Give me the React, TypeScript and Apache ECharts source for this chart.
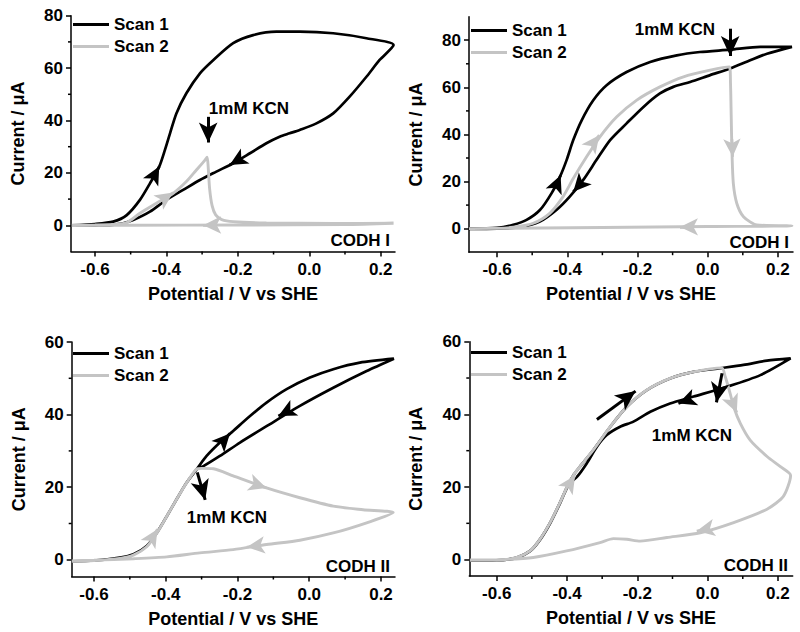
import React, { useEffect, useRef } from 'react';
import * as echarts from 'echarts';

type Pt = [number, number];

// ---------- data (x: V vs SHE, y: µA) ----------
const P1_SCAN1: Pt[] = [
  [-0.665, 0], [-0.6, 0.5], [-0.549, 1.4], [-0.511, 3.9], [-0.474, 9.7], [-0.446, 16], [-0.42, 22.4],
  [-0.404, 28.8], [-0.39, 35], [-0.372, 42.7], [-0.344, 50.4], [-0.306, 58], [-0.269, 63], [-0.213, 69.5],
  [-0.157, 72.6], [-0.092, 73.9], [-0.027, 73.9], [0.067, 73.3], [0.16, 71.4], [0.236, 68.8],
  [0.197, 63.1], [0.16, 56.7], [0.113, 49.1], [0.067, 42.7], [0.02, 38.9], [-0.027, 36.4], [-0.055, 35.1],
  [-0.083, 33.8], [-0.12, 31.3], [-0.166, 27.5], [-0.213, 23.7], [-0.26, 20.5], [-0.306, 17.3],
  [-0.353, 13.5], [-0.4, 9.7], [-0.446, 5.2], [-0.493, 2], [-0.521, 0.8], [-0.558, 0.1], [-0.6, 0], [-0.665, -0.1],
];
const P1_SCAN2: Pt[] = [
  [-0.665, 0], [-0.6, 0.1], [-0.55, 0.3], [-0.511, 1], [-0.474, 4.6], [-0.428, 8.4], [-0.381, 12.2],
  [-0.344, 16.7], [-0.316, 21.1], [-0.292, 24.9], [-0.286, 26], [-0.283, 22.4], [-0.279, 14], [-0.272, 7.5],
  [-0.262, 4], [-0.245, 2.2], [-0.213, 1.4], [-0.12, 0.9], [0.067, 0.7], [0.236, 0.8],
  [0.1, 0.3], [-0.2, 0.1], [-0.5, 0], [-0.665, -0.1],
];
const P2_SCAN1: Pt[] = [
  [-0.68, 0], [-0.6, 0.3], [-0.554, 1.6], [-0.516, 3.7], [-0.478, 7.9], [-0.445, 15], [-0.421, 22],
  [-0.402, 29.1], [-0.383, 37.6], [-0.359, 46], [-0.326, 54.5], [-0.288, 60.9], [-0.231, 66.5],
  [-0.164, 70.8], [-0.088, 73.6], [-0.022, 75], [0.064, 76], [0.15, 77.2], [0.24, 77.2],
  [0.169, 74.3], [0.121, 71.5], [0.064, 68], [0.007, 65.2], [-0.05, 62.3], [-0.098, 60.2], [-0.136, 57.4],
  [-0.183, 51.7], [-0.231, 44.7], [-0.278, 37.6], [-0.317, 29.1], [-0.355, 20.6], [-0.393, 13.6],
  [-0.431, 7.9], [-0.478, 3], [-0.535, 0.6], [-0.6, 0], [-0.68, -0.1],
];
const P2_SCAN2: Pt[] = [
  [-0.68, 0], [-0.6, 0.1], [-0.554, 0.6], [-0.497, 2.3], [-0.45, 6.5], [-0.412, 13.6], [-0.383, 21.3],
  [-0.345, 30.5], [-0.307, 39], [-0.259, 47.5], [-0.202, 54.6], [-0.136, 60.2], [-0.069, 64.5],
  [0.007, 67.3], [0.062, 68.7], [0.065, 61.6], [0.067, 47.5], [0.069, 33.4], [0.073, 19.2], [0.083, 10.7],
  [0.102, 5.1], [0.14, 1.6], [0.24, 1.2], [0.0, 0.9], [-0.3, 0.5], [-0.68, 0],
];
const P3_SCAN1: Pt[] = [
  [-0.662, -0.4], [-0.6, -0.2], [-0.528, 0.6], [-0.49, 1.5], [-0.453, 3.8], [-0.425, 7.4], [-0.397, 12],
  [-0.37, 16.6], [-0.342, 21.2], [-0.314, 24.9], [-0.286, 28.6], [-0.249, 32.3], [-0.212, 35.5],
  [-0.165, 39.6], [-0.119, 43.3], [-0.063, 47], [0.002, 50.2], [0.067, 52.5], [0.141, 54.3], [0.236, 55.4],
  [0.16, 52], [0.067, 47.4], [-0.026, 42.4], [-0.119, 36.8], [-0.193, 32.3], [-0.249, 28.6],
  [-0.295, 25.8], [-0.314, 25.1],
];
const P3_SCAN2: Pt[] = [
  [-0.662, -0.4], [-0.6, -0.2], [-0.528, 0.4], [-0.49, 1.3], [-0.453, 3.6], [-0.425, 7.3], [-0.397, 12],
  [-0.37, 16.6], [-0.342, 21.2], [-0.314, 25], [-0.3, 25.2], [-0.267, 25.1], [-0.212, 23.1], [-0.119, 19.8],
  [-0.026, 17.1], [0.067, 14.8], [0.15, 13.8], [0.234, 13],
  [0.16, 10.2], [0.067, 7.4], [-0.026, 5.4], [-0.119, 4.2], [-0.212, 2.8], [-0.305, 1.9], [-0.397, 0.8],
  [-0.49, 0.3], [-0.6, -0.1], [-0.662, -0.3],
];
const P4_SCAN1: Pt[] = [
  [-0.676, -0.2], [-0.6, -0.2], [-0.543, 0.6], [-0.505, 2.4], [-0.477, 5.6], [-0.448, 10.2], [-0.42, 15.7],
  [-0.4, 20], [-0.38, 23.5], [-0.36, 26], [-0.325, 30.2], [-0.277, 36.6], [-0.23, 42.1], [-0.173, 46.7],
  [-0.107, 49.9], [-0.04, 51.7], [0.036, 52.7], [0.102, 53.6], [0.169, 54.8], [0.236, 55.4],
  [0.15, 50.8], [0.055, 47.6], [-0.04, 44.9], [-0.107, 43], [-0.163, 40.7], [-0.211, 38], [-0.249, 36.6],
  [-0.287, 34.3], [-0.315, 31.1], [-0.344, 26.5], [-0.37, 23], [-0.396, 20.5], [-0.42, 15.5],
  [-0.448, 10], [-0.477, 5.4], [-0.505, 2.3], [-0.543, 0.5], [-0.6, -0.2], [-0.676, -0.3],
];
const P4_SCAN2: Pt[] = [
  [-0.676, -0.2], [-0.6, -0.2], [-0.543, 0.6], [-0.505, 2.4], [-0.477, 5.6], [-0.448, 10.2], [-0.42, 15.7],
  [-0.4, 20], [-0.38, 23.5], [-0.36, 26], [-0.325, 30.2], [-0.277, 36.6], [-0.23, 42.1], [-0.173, 46.7],
  [-0.107, 49.9], [-0.04, 51.7], [0.04, 52.8], [0.05, 50.4], [0.064, 45.8], [0.074, 42.1], [0.093, 37.5],
  [0.121, 32.9], [0.169, 28.4], [0.207, 25.6], [0.236, 23.2],
  [0.216, 17.5], [0.169, 13.9], [0.074, 10.2], [-0.021, 7.4], [-0.116, 6.1], [-0.192, 5.1], [-0.23, 5.6],
  [-0.268, 5.8], [-0.306, 4.7], [-0.401, 2.4], [-0.496, 0.6], [-0.59, 0], [-0.676, -0.1],
];

// direction arrows: [xFrom, yFrom, xHead, yHead]
const P1_BLACK_ARROWS = [[-0.44, 17.4, -0.42, 22.4], [-0.19, 25.6, -0.223, 23.0]];
const P1_GRAY_ARROWS = [[-0.405, 10.3, -0.381, 12.5], [-0.26, 0.1, -0.297, 0.05]];
const P2_BLACK_ARROWS = [[-0.435, 17, -0.419, 22.7], [-0.36, 19.5, -0.383, 15.7]];
const P2_GRAY_ARROWS = [[-0.33, 35.5, -0.309, 39.7], [0.069, 38, 0.071, 30.5], [-0.04, 0.75, -0.079, 0.7]];
const P3_BLACK_ARROWS = [[-0.245, 32.2, -0.221, 34.8], [-0.055, 41.2, -0.086, 39.6]];
const P3_GRAY_ARROWS = [[-0.438, 6, -0.423, 8.4], [-0.15, 20.8, -0.119, 19.8], [-0.14, 3.9, -0.174, 3.5]];
const P4_BLACK_ARROWS = [[-0.05, 44.2, -0.083, 43.0]];
const P4_GRAY_ARROWS = [[-0.395, 20.5, -0.377, 23.2], [0.07, 43.5, 0.083, 40.5], [0.0, 8.5, -0.031, 7.9]];

// "1mM KCN" / free arrows
const P1_KCN = [[-0.283, 41.4, -0.283, 31.6]];
const P2_KCN = [[0.064, 84.9, 0.064, 73.3]];
const P3_KCN = [[-0.312, 24.1, -0.29, 16.5]];
const P4_KCN = [[0.041, 51.3, 0.025, 43.3], [-0.315, 38.6, -0.205, 46.4]];

const X_LABELS = [-0.6, -0.4, -0.2, 0, 0.2];
const X_MINOR = [-0.5, -0.3, -0.1, 0.1];
const Y_LABELS_TOP = [0, 20, 40, 60, 80];
const Y_MINOR_TOP = [10, 30, 50, 70];
const Y_LABELS_BOTTOM = [0, 20, 40, 60];
const Y_MINOR_BOTTOM = [10, 30, 50];

const SERIES_NAMES = ['Scan 1', 'Scan 2'];
const PANEL_LABELS = ['CODH I', 'CODH I', 'CODH II', 'CODH II'];
const KCN_TEXT = '1mM KCN';
const X_TITLE = 'Potential / V vs SHE';
const Y_TITLE = 'Current / μA';

// ---------- layout ----------
const FONT = '"Liberation Sans", Arial, Helvetica, sans-serif';
const BLACK = '#000000';
const GRAY = '#c4c4c4';

const PANELS = [
  { left: 71, top: 15.7, width: 324, height: 235.8, xMin: -0.667, xMax: 0.24, yMin: -10, yMax: 80,
    yLabels: Y_LABELS_TOP, yMinor: Y_MINOR_TOP, s1: P1_SCAN1, s2: P1_SCAN2, bA: P1_BLACK_ARROWS, gA: P1_GRAY_ARROWS, kcn: P1_KCN,
    legendLeft: 73, legendTop: 16, codh: [390, 240], kcnPos: [249, 108.5] },
  { left: 469, top: 16.7, width: 324, height: 235.5, xMin: -0.68, xMax: 0.243, yMin: -10, yMax: 90,
    yLabels: Y_LABELS_TOP, yMinor: Y_MINOR_TOP, s1: P2_SCAN1, s2: P2_SCAN2, bA: P2_BLACK_ARROWS, gA: P2_GRAY_ARROWS, kcn: P2_KCN,
    legendLeft: 471, legendTop: 22, codh: [789, 242], kcnPos: [675, 29] },
  { left: 71.7, top: 342, width: 323.3, height: 234.5, xMin: -0.662, xMax: 0.239, yMin: -4.6, yMax: 60,
    yLabels: Y_LABELS_BOTTOM, yMinor: Y_MINOR_BOTTOM, s1: P3_SCAN1, s2: P3_SCAN2, bA: P3_BLACK_ARROWS, gA: P3_GRAY_ARROWS, kcn: P3_KCN,
    legendLeft: 73, legendTop: 345, codh: [390, 566], kcnPos: [227, 517.5] },
  { left: 469.3, top: 341.7, width: 323.4, height: 234.3, xMin: -0.678, xMax: 0.242, yMin: -4.5, yMax: 60,
    yLabels: Y_LABELS_BOTTOM, yMinor: Y_MINOR_BOTTOM, s1: P4_SCAN1, s2: P4_SCAN2, bA: P4_BLACK_ARROWS, gA: P4_GRAY_ARROWS, kcn: P4_KCN,
    legendLeft: 471, legendTop: 344, codh: [788, 565], kcnPos: [692, 435] },
];

const boldText = (size: number) => ({ fontSize: size, fontWeight: 'bold' as const, color: BLACK, fontFamily: FONT });

function arrowItems(list: number[][], color: string, size: number[], width: number) {
  return list.map(([x1, y1, x2, y2]) => [
    { coord: [x1, y1], symbol: 'none' },
    { coord: [x2, y2], symbol: 'arrow', symbolSize: size, lineStyle: { color, width, type: 'solid' } },
  ]);
}

const MINOR_LEN = 3;
// custom series item: [x, y, dir]  dir 0 -> tick down from x-axis, 1 -> tick left from y-axis
function renderMinorTick(_params: any, api: any) {
  const pt = api.coord([api.value(0), api.value(1)]);
  const dir = api.value(2);
  const x2 = dir === 1 ? pt[0] - MINOR_LEN : pt[0];
  const y2 = dir === 1 ? pt[1] : pt[1] + MINOR_LEN;
  return {
    type: 'line',
    shape: { x1: pt[0], y1: pt[1], x2, y2 },
    style: { stroke: BLACK, lineWidth: 1.5 },
    silent: true,
  };
}

function buildOption() {
  const grid: any[] = [];
  const xAxis: any[] = [];
  const yAxis: any[] = [];
  const series: any[] = [];
  const legend: any[] = [];
  const graphic: any[] = [];
  const axisLine = { show: true, onZero: false, lineStyle: { color: BLACK, width: 1.5 } };

  PANELS.forEach((p, i) => {
    grid.push({ left: p.left, top: p.top, width: p.width, height: p.height, containLabel: false });
    xAxis.push({
      type: 'value', gridIndex: i, min: p.xMin, max: p.xMax, position: 'bottom',
      axisLine, splitLine: { show: false },
      axisTick: { show: true, length: 5, lineStyle: { color: BLACK, width: 1.5 }, customValues: X_LABELS },
      axisLabel: { customValues: X_LABELS, margin: 9, formatter: (v: number) => v.toFixed(1), ...boldText(17) },
      name: X_TITLE, nameLocation: 'middle', nameGap: 33, nameTextStyle: boldText(18),
    });
    yAxis.push({
      type: 'value', gridIndex: i, min: p.yMin, max: p.yMax, position: 'left',
      axisLine, splitLine: { show: false },
      axisTick: { show: true, length: 5, lineStyle: { color: BLACK, width: 1.5 }, customValues: p.yLabels },
      axisLabel: { customValues: p.yLabels, margin: 8, ...boldText(17) },
      name: Y_TITLE, nameLocation: 'middle', nameGap: 44, nameRotate: 90, nameTextStyle: boldText(18),
    });
    const common = { type: 'line', xAxisIndex: i, yAxisIndex: i, symbol: 'none', smooth: 0.25, silent: true, clip: true };
    series.push({ ...common, name: SERIES_NAMES[0], data: p.s1, color: BLACK, lineStyle: { color: BLACK, width: 2.7 }, z: 2 });
    series.push({ ...common, name: SERIES_NAMES[1], data: p.s2, color: GRAY, lineStyle: { color: GRAY, width: 2.9 }, z: 3 });
    series.push({
      type: 'line', xAxisIndex: i, yAxisIndex: i, data: [], symbol: 'none', silent: true, z: 5,
      markLine: {
        silent: true, animation: false, symbol: ['none', 'arrow'], label: { show: false },
        emphasis: { disabled: true },
        lineStyle: { type: 'solid', width: 2.7, color: BLACK },
        data: [
          ...arrowItems(p.gA, GRAY, [13, 18], 2.7),
          ...arrowItems(p.bA, BLACK, [13, 18], 2.7),
          ...arrowItems(p.kcn, BLACK, [14, 20], 3),
        ],
      },
    });
    // minor ticks drawn through the axis scales
    series.push({
      type: 'custom', xAxisIndex: i, yAxisIndex: i, silent: true, z: 6, clip: false,
      renderItem: renderMinorTick,
      data: [
        ...X_MINOR.map((v) => [v, p.yMin, 0]),
        ...p.yMinor.map((v) => [p.xMin, v, 1]),
      ],
    });
    legend.push({
      left: p.legendLeft, top: p.legendTop, orient: 'vertical', itemWidth: 36, itemHeight: 3, itemGap: 5,
      icon: 'rect', selectedMode: false, data: SERIES_NAMES, textStyle: boldText(17), padding: 0,
    });
    graphic.push({
      type: 'text', x: p.codh[0], y: p.codh[1], silent: true,
      style: { text: PANEL_LABELS[i], fill: BLACK, fontSize: 17, fontWeight: 'bold', fontFamily: FONT, align: 'right', verticalAlign: 'middle' },
    });
    graphic.push({
      type: 'text', x: p.kcnPos[0], y: p.kcnPos[1], silent: true,
      style: { text: KCN_TEXT, fill: BLACK, fontSize: 17, fontWeight: 'bold', fontFamily: FONT, align: 'center', verticalAlign: 'middle' },
    });
  });

  return {
    animation: false,
    backgroundColor: '#ffffff',
    grid, xAxis, yAxis, series, legend, graphic,
  };
}

export default function App() {
  const ref = useRef<HTMLDivElement>(null);
  useEffect(() => {
    if (!ref.current) return;
    const chart = echarts.init(ref.current, undefined, { renderer: 'svg' });
    chart.setOption(buildOption() as any);
    return () => chart.dispose();
  }, []);
  return <div ref={ref} style={{ position: 'absolute', left: 0, top: 0, width: 800, height: 632 }} />;
}
